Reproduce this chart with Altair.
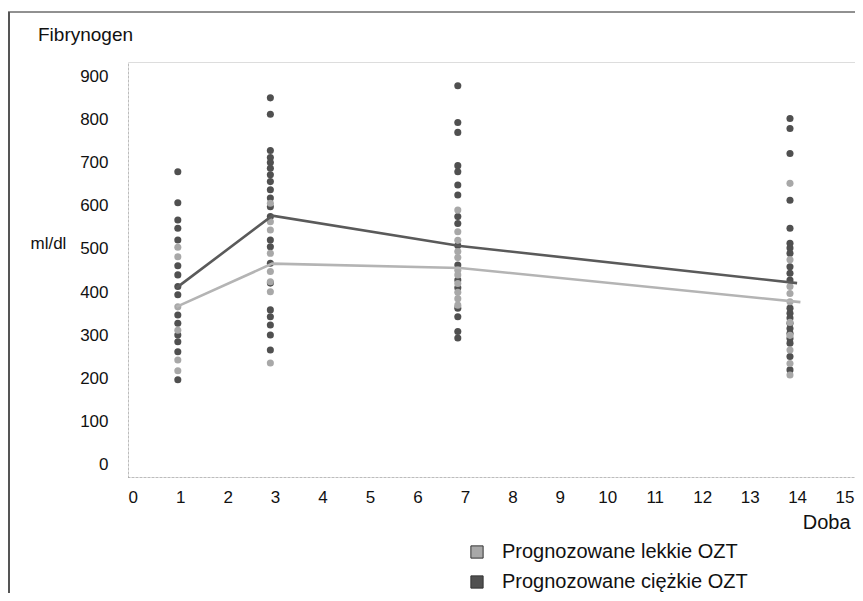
import altair as alt
import pandas as pd

LIGHT = "Prognozowane lekkie OZT"
SEVERE = "Prognozowane ciężkie OZT"
FONT = "Liberation Sans"

# x position of each column of measurements (days)
point_days = [0.95, 2.9, 6.85, 13.85]

severe_values = [
    [679, 607, 567, 548, 521, 461, 440, 413, 394, 347, 328, 301, 285, 262, 197],
    [850, 812, 728, 712, 700, 687, 672, 656, 637, 618, 598, 575, 521, 505, 467, 421, 359, 343, 324, 301, 266],
    [878, 793, 770, 693, 679, 648, 625, 575, 559, 508, 463, 428, 410, 363, 343, 309, 294],
    [802, 779, 721, 613, 548, 513, 502, 490, 459, 444, 428, 363, 351, 340, 328, 316, 305, 293, 282, 251, 220],
]
light_values = [
    [504, 482, 366, 312, 243, 218],
    [606, 563, 544, 490, 448, 424, 401, 236],
    [590, 540, 520, 494, 480, 451, 440, 420, 400, 385, 370],
    [652, 475, 413, 397, 378, 330, 300, 266, 235, 208],
]

# mean lines
line_days_light = [0.92, 2.94, 6.9, 14.07]
line_values_light = [366, 466, 456, 377]
line_days_severe = [0.92, 2.94, 6.9, 14.0]
line_values_severe = [410, 577, 507, 421]

x_ticks = list(range(0, 16))
y_ticks = list(range(0, 1000, 100))

rows = []
for d, sv, lv in zip(point_days, severe_values, light_values):
    for v in sv:
        rows.append({"day": d, "value": v, "group": SEVERE, "ord": 0})
    for v in lv:
        rows.append({"day": d, "value": v, "group": LIGHT, "ord": 1})
pts = pd.DataFrame(rows)

lrows = []
for d, v in zip(line_days_light, line_values_light):
    lrows.append({"day": d, "value": v, "group": LIGHT})
for d, v in zip(line_days_severe, line_values_severe):
    lrows.append({"day": d, "value": v, "group": SEVERE})
lines_df = pd.DataFrame(lrows)

xscale = alt.Scale(domain=[-0.1, 15.22], nice=False, zero=False)
yscale = alt.Scale(domain=[-28, 933], nice=False, zero=False)

xaxis = alt.Axis(
    values=x_ticks, title="Doba", labelFontSize=17, labelFont=FONT, labelColor="#111",
    labelPadding=12, ticks=False, grid=False, domainColor="#9a9a9a", domainDash=[1, 3],
    titleFont=FONT, titleFontSize=20, titleFontWeight="normal", titleColor="#111",
    titleAnchor="end", titleAlign="right", titleBaseline="middle", titleX=722, titleY=45,
    labelFlush=False,
)
yaxis = alt.Axis(
    values=y_ticks, title="ml/dl", labelFontSize=17, labelFont=FONT, labelColor="#111",
    labelPadding=20, ticks=False, grid=False, domainColor="#9a9a9a", domainDash=[1, 3],
    titleFont=FONT, titleFontSize=17, titleFontWeight="normal", titleColor="#111",
    titleAngle=0, titleAlign="left", titleBaseline="middle", titleX=-98, titleY=181,
)

color_pts = alt.Color(
    "group:N",
    scale=alt.Scale(domain=[LIGHT, SEVERE], range=["#a8a8a8", "#505050"]),
    sort=[LIGHT, SEVERE],
    legend=alt.Legend(
        orient="none", legendX=339, legendY=480, title=None, symbolType="square",
        symbolSize=150, symbolStrokeColor="#333333", symbolStrokeWidth=1,
        labelFont=FONT, labelFontSize=20, labelColor="#111", labelOffset=15,
        labelLimit=0, rowPadding=10, padding=0, symbolOpacity=1,
    ),
)

points = alt.Chart(pts).mark_point(filled=True, size=50, opacity=1).encode(
    x=alt.X("day:Q", scale=xscale, axis=xaxis),
    y=alt.Y("value:Q", scale=yscale, axis=yaxis),
    color=color_pts,
    order=alt.Order("ord:Q"),
)

lines = alt.Chart(lines_df).mark_line(strokeWidth=2.6).encode(
    x=alt.X("day:Q", scale=xscale),
    y=alt.Y("value:Q", scale=yscale),
    color=alt.Color("group:N",
                    scale=alt.Scale(domain=[LIGHT, SEVERE], range=["#b4b4b4", "#5a5a5a"]),
                    legend=None),
)

one = pd.DataFrame({"k": [0]})
frame_top = alt.Chart(one).mark_rule(color="#222222", strokeWidth=1).encode(
    x=alt.value(-120), x2=alt.value(727), y=alt.value(-50)
)
frame_left = alt.Chart(one).mark_rule(color="#555555", strokeWidth=2).encode(
    x=alt.value(-119), y=alt.value(-50), y2=alt.value(540)
)
title_text = alt.Chart(one).mark_text(
    align="left", baseline="middle", fontSize=19, font=FONT, color="#111"
).encode(x=alt.value(-90), y=alt.value(-27), text=alt.value("Fibrynogen"))

chart = alt.layer(frame_top, frame_left, title_text, points, lines).resolve_scale(
    color="independent"
).properties(
    width=727,
    height=415,
    padding={"left": 120, "top": 54, "right": 0, "bottom": 116},
    autosize=alt.AutoSizeParams(type="none"),
).configure_view(
    fill="#f2f2f2", stroke="transparent"
).configure(background="white")

chart.save("out.html", embed_options={"renderer": "svg", "actions": False})
